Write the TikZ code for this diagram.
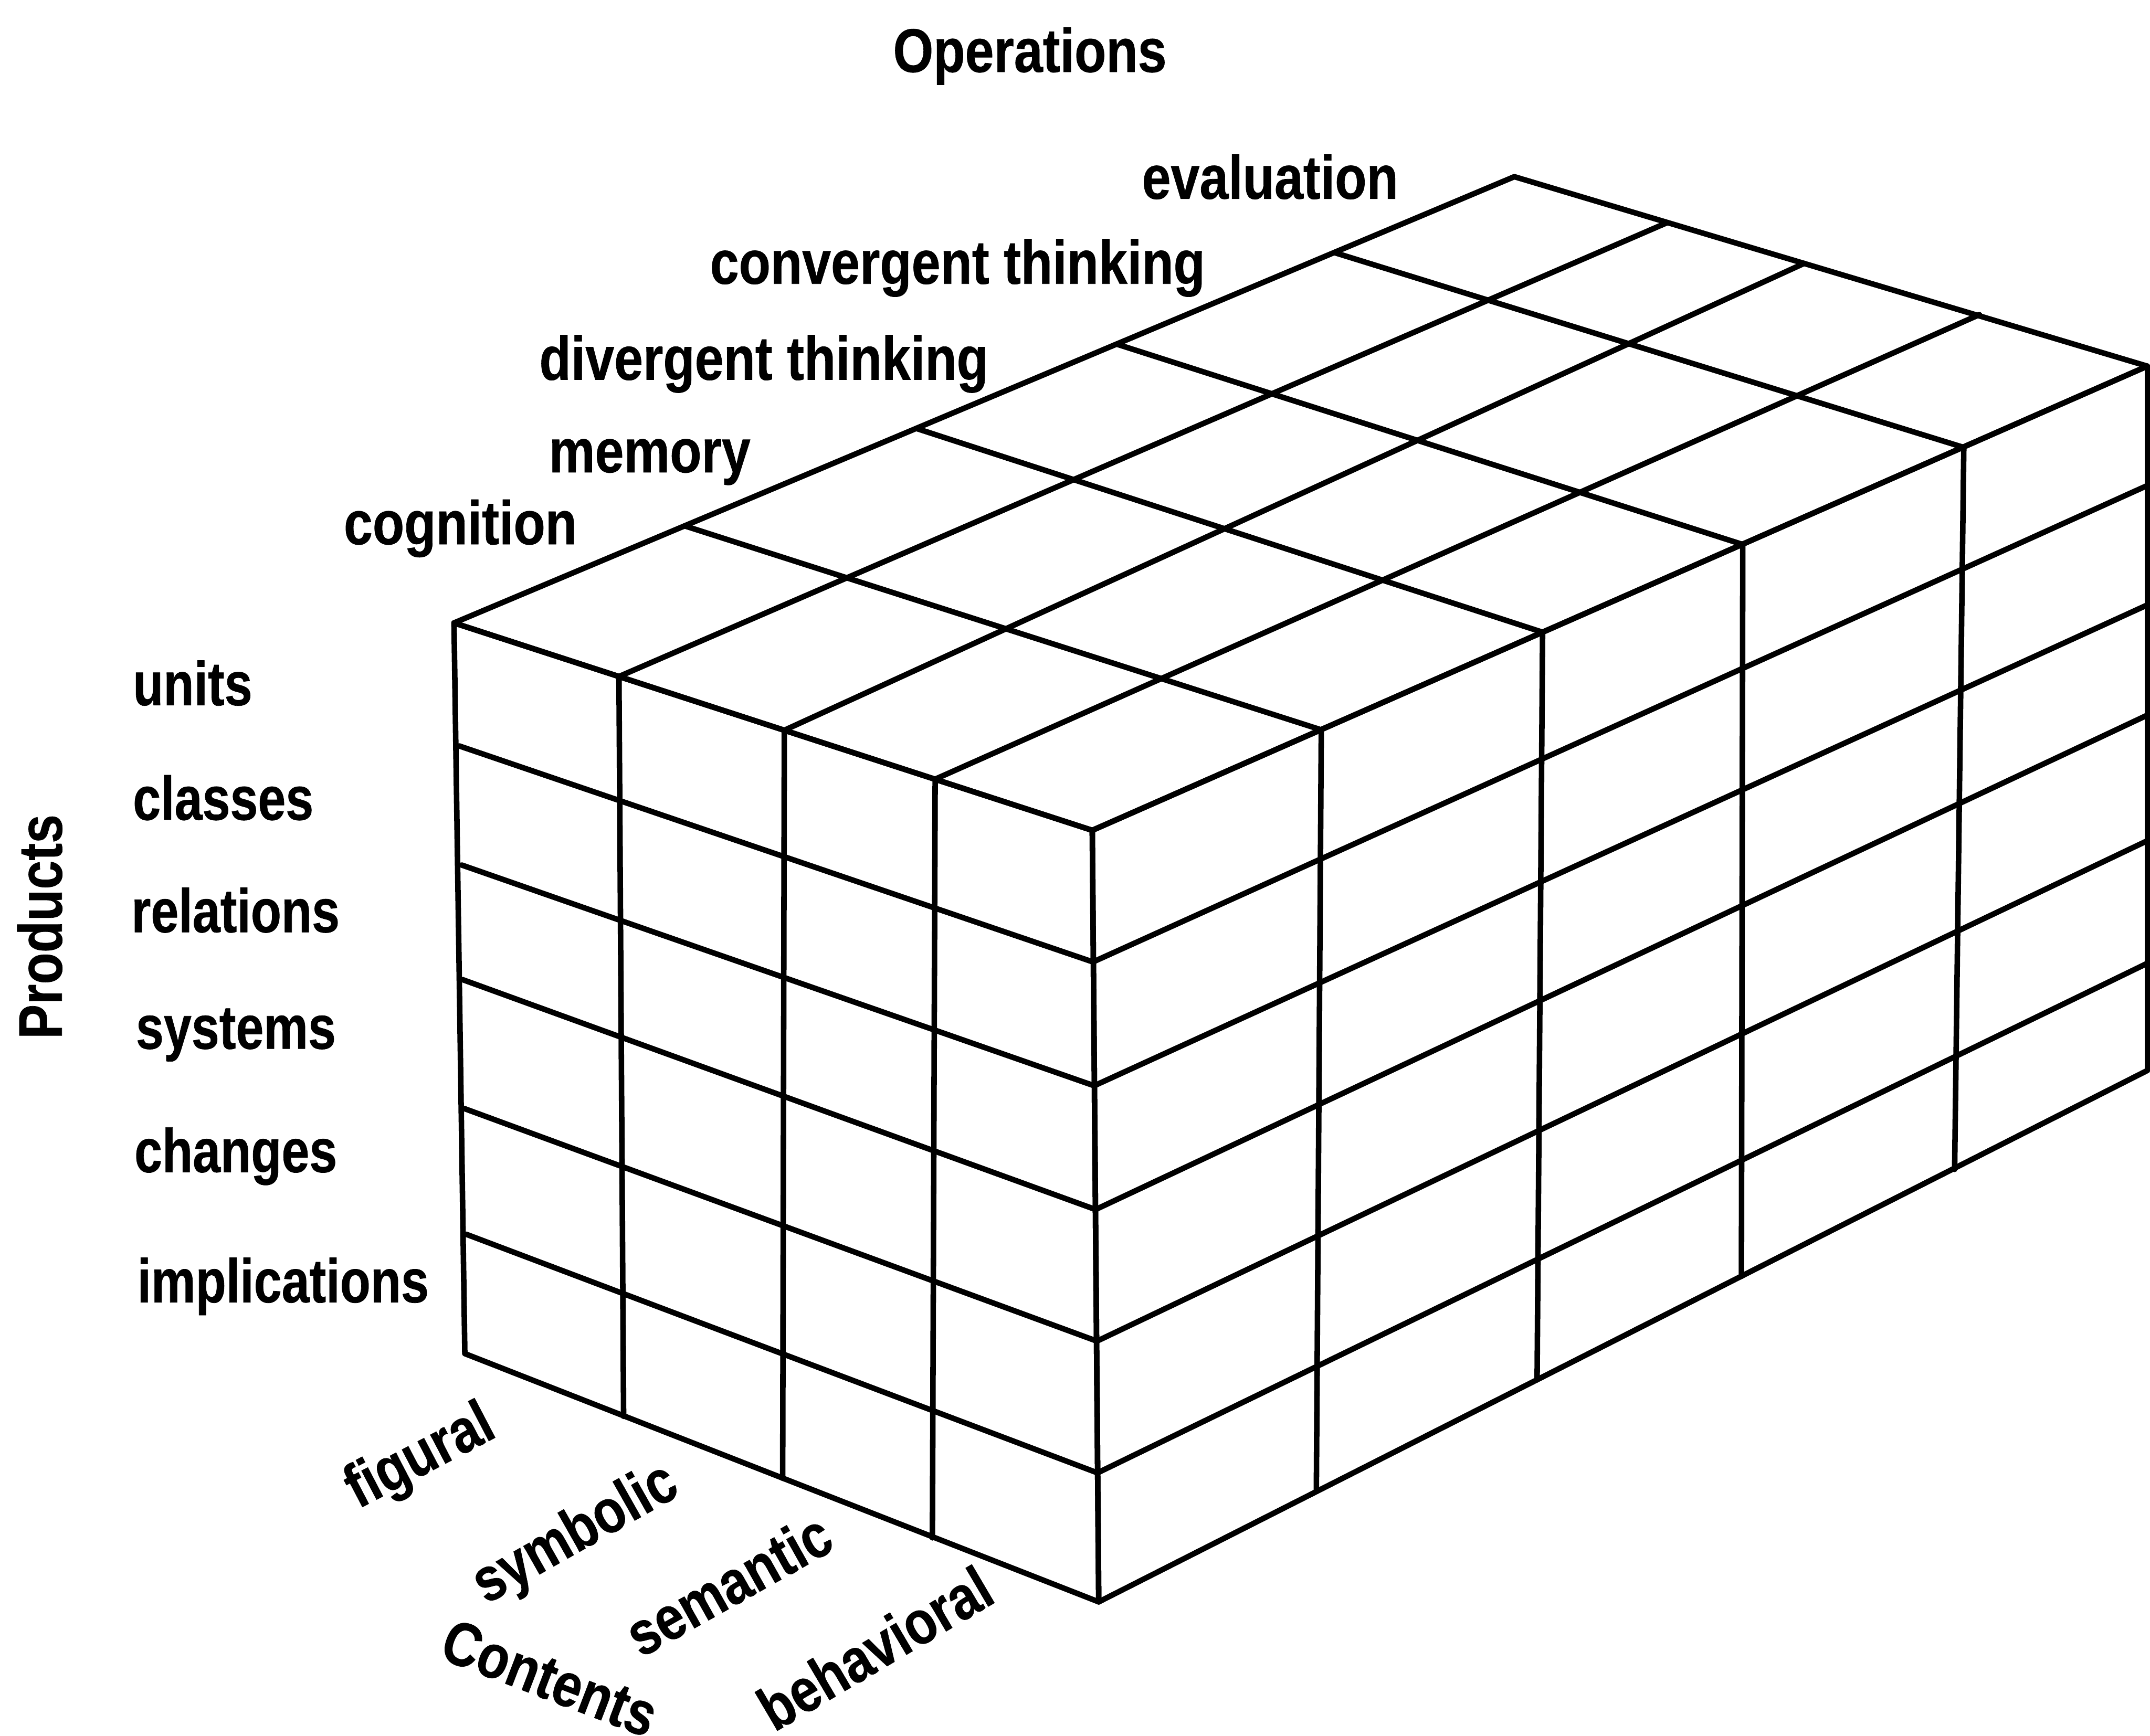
\documentclass[tikz,border=0pt]{standalone}
\usepackage{fontspec}
\newfontfamily\labfont[FakeStretch=0.84, BoldFeatures={FakeBold=0.6}]{Liberation Sans}
\newfontfamily\prodfont[FakeStretch=0.81, BoldFeatures={FakeBold=0.6}]{Liberation Sans}
\begin{document}
\begin{tikzpicture}[x=0.02cm,y=-0.02cm]
\tikzset{
  gridline/.style={line width=2.3pt, line cap=round, line join=round},
  lab/.style={font=\labfont\bfseries\fontsize{25.6}{30}\selectfont, inner sep=0pt},
  plab/.style={font=\prodfont\bfseries\fontsize{25.6}{30}\selectfont, inner sep=0pt},
}
\useasboundingbox (0,0) rectangle (1568,1266);
% corners
\coordinate (A) at (331.1,454.4);
\coordinate (B) at (796.6,605.7);
\coordinate (C) at (1104.4,128.9);
\coordinate (D) at (1566,267.1);
\coordinate (E) at (339,987.4);
\coordinate (F) at (801.3,1168.5);
\coordinate (G) at (1566,780.9);
% front top / bottom (contents)
\coordinate (P0) at (A);
\coordinate (P1) at (451.4,493.5);
\coordinate (P2) at (572,532.7);
\coordinate (P3) at (682,568.4);
\coordinate (P4) at (B);
\coordinate (Q0) at (E);
\coordinate (Q1) at (454.8,1033.2);
\coordinate (Q2) at (570.8,1078.4);
\coordinate (Q3) at (680,1121.8);
\coordinate (Q4) at (F);
% front left / right (products)
\coordinate (L0) at (A);
\coordinate (L1) at (334.8,544.1);
\coordinate (L2) at (336.7,631);
\coordinate (L3) at (337.1,714.5);
\coordinate (L4) at (338.5,808.6);
\coordinate (L5) at (339.9,900.3);
\coordinate (L6) at (E);
\coordinate (R0) at (B);
\coordinate (R1) at (797.1,701.7);
\coordinate (R2) at (798,792);
\coordinate (R3) at (799,882.3);
\coordinate (R4) at (800,978.3);
\coordinate (R5) at (800.4,1074.4);
\coordinate (R6) at (F);
% right face top / bottom (operations)
\coordinate (S0) at (B);
\coordinate (S1) at (963.6,532.4);
\coordinate (S2) at (1125,461.2);
\coordinate (S3) at (1271,397.2);
\coordinate (S4) at (1432.2,326.4);
\coordinate (S5) at (D);
\coordinate (T0) at (F);
\coordinate (T1) at (960,1088.1);
\coordinate (T2) at (1121,1006.6);
\coordinate (T3) at (1270,931.1);
\coordinate (T4) at (1425.5,853);
\coordinate (T5) at (G);
% right face back edge (products)
\coordinate (U0) at (D);
\coordinate (U1) at (1566,354.2);
\coordinate (U2) at (1566,441.3);
\coordinate (U3) at (1566,521.7);
\coordinate (U4) at (1566,613.3);
\coordinate (U5) at (1566,702.7);
\coordinate (U6) at (G);
% top face left / back edges
\coordinate (V0) at (A);
\coordinate (V1) at (499.3,383.6);
\coordinate (V2) at (668.2,312.5);
\coordinate (V3) at (814.3,251);
\coordinate (V4) at (973,184.2);
\coordinate (V5) at (C);
\coordinate (W0) at (C);
\coordinate (W1) at (1215.9,162.4);
\coordinate (W2) at (1315.8,192.1);
\coordinate (W3) at (1443.6,229.5);
\coordinate (W4) at (D);
% front face
\foreach \i in {0,...,4} \draw[gridline] (P\i) -- (Q\i);
\foreach \i in {0,...,6} \draw[gridline] (L\i) -- (R\i);
% right face
\foreach \i in {0,...,5} \draw[gridline] (S\i) -- (T\i);
\foreach \i in {0,...,6} \draw[gridline] (R\i) -- (U\i);
% top face
\foreach \i in {0,...,5} \draw[gridline] (V\i) -- (S\i);
\foreach \i in {0,...,4} \draw[gridline] (P\i) -- (W\i);
% operations
\node[lab, anchor=base west] (opt) at (651,52.5) {Operations};
\node[lab, anchor=base west] (o5) at (832.5,145) {evaluation};
\node[lab, anchor=base west] (o4) at (517.5,207) {convergent thinking};
\node[lab, anchor=base west] (o3) at (393,277) {divergent thinking};
\node[lab, anchor=base west] (o2) at (400,344.5) {memory};
\node[lab, anchor=base west] (o1) at (250.4,397) {cognition};
% products
\node[lab, rotate=90] (prt) at (29,676) {Products};
\node[plab, anchor=base west] (p1) at (96.6,514.4) {units};
\node[plab, anchor=base west] (p2) at (96.6,598) {classes};
\node[plab, anchor=base west] (p3) at (95.5,680) {relations};
\node[plab, anchor=base west] (p4) at (98.8,765) {systems};
\node[plab, anchor=base west] (p5) at (97.7,855) {changes};
\node[plab, anchor=base west] (p6) at (99.8,950) {implications};
% contents
\node[lab, rotate=27.6] (c1) at (307,1064) {figural};
\node[lab, rotate=29.5] (c2) at (420.2,1120) {symbolic};
\node[lab, rotate=29.3] (c3) at (531.1,1155.5) {semantic};
\node[lab, rotate=30.5] (c4) at (638,1202) {behavioral};
\node[lab, rotate=-21] (ctt) at (401,1224) {Contents};
\end{tikzpicture}
\end{document}
